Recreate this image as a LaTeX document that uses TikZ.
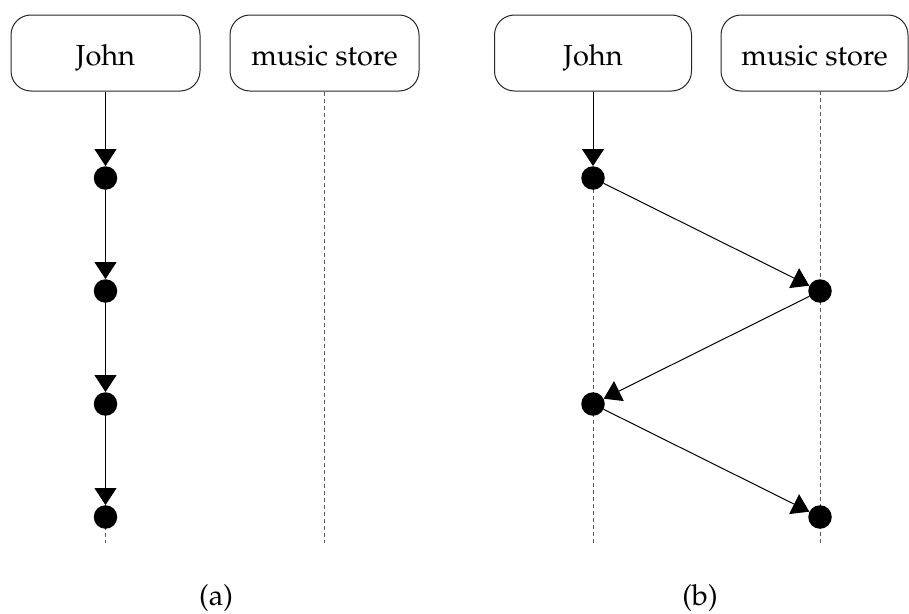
\documentclass[tikz,border=0pt]{standalone}
\usepackage[T1]{fontenc}
\usepackage{mathpazo}
\usetikzlibrary{arrows.meta}
\begin{document}
\begin{tikzpicture}[x=1pt,y=-1pt,
  actor/.style={draw=black!85,line width=1pt,rounded corners=20pt,
    minimum height=76pt,inner sep=0pt,text height=24pt,text depth=0pt,
    font=\fontsize{29}{35}\selectfont},
  lifeline/.style={draw=black!65,line width=1pt,dash pattern=on 4pt off 3pt},
  event/.style={circle,fill=black,minimum size=23.5pt,inner sep=0pt},
  msg/.style={draw=black,line width=1pt,-{Triangle[width=22pt,length=17pt]}},
  caption/.style={font=\fontsize{29}{35}\selectfont}]
\useasboundingbox (0,0) rectangle (909,613);

% ---- (a): John handles everything himself ----
\node[actor,minimum width=189pt] (aJ) at (105.5,53) {John};
\node[actor,minimum width=189pt] (aM) at (324.5,53) {music store};
\coordinate (aJend) at (105.5,543);
\coordinate (aMend) at (324.5,543);
\draw[lifeline] (aJ.south) -- (aJend);
\draw[lifeline] (aM.south) -- (aMend);
\node[event] (a1) at (105.5,178) {};
\node[event] (a2) at (105.5,291) {};
\node[event] (a3) at (105.5,404) {};
\node[event] (a4) at (105.5,517) {};
\draw[msg] (aJ.south) -- (a1);
\draw[msg] (a1) -- (a2);
\draw[msg] (a2) -- (a3);
\draw[msg] (a3) -- (a4);
\node[caption] (capa) at (216,598) {(a)};

% ---- (b): messages alternate between John and the store ----
\node[actor,minimum width=197pt] (bJ) at (593,53) {John};
\node[actor,minimum width=187pt] (bM) at (814.5,53) {music store};
\coordinate (bJend) at (593,545);
\coordinate (bMend) at (820,545);
\draw[lifeline] (593,91) -- (bJend);
\draw[lifeline] (820,91) -- (bMend);
\node[event] (b1) at (593,178) {};
\node[event] (b2) at (820,291) {};
\node[event] (b3) at (593,404) {};
\node[event] (b4) at (820,517) {};
\draw[msg] (bJ.south) -- (b1);
\draw[msg] (b1) -- (b2);
\draw[msg] (b2) -- (b3);
\draw[msg] (b3) -- (b4);
\node[caption] (capb) at (700,598) {(b)};
\end{tikzpicture}
\end{document}
